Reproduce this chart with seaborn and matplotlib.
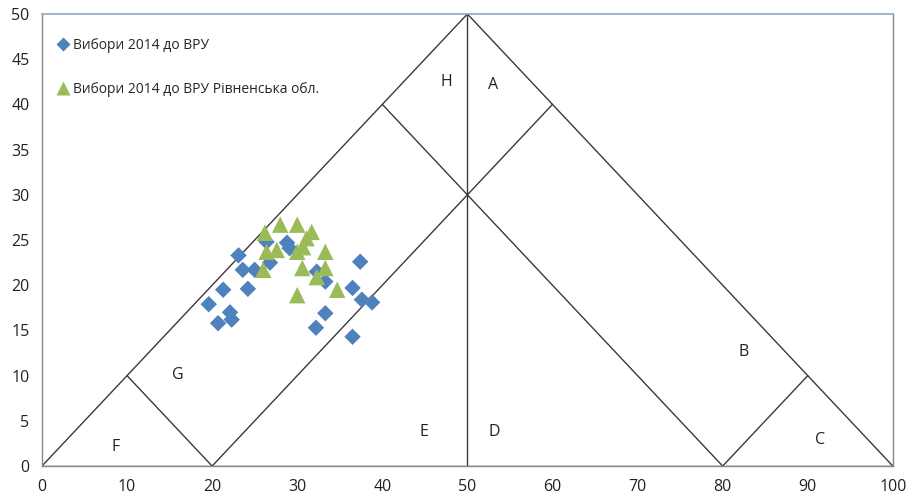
import pandas as pd
import matplotlib
matplotlib.use("Agg")
import matplotlib.pyplot as plt
import seaborn as sns

# series 1: blue diamonds
ukr_x = [23.1, 23.6, 25.0, 21.3, 24.2, 19.6, 22.1, 20.7, 22.3, 26.4, 28.8, 26.8, 29.1,
         32.3, 33.3, 37.4, 36.5, 37.6, 38.8, 33.3, 32.2, 36.5]
ukr_y = [23.3, 21.7, 21.7, 19.5, 19.6, 17.9, 17.0, 15.8, 16.2, 24.8, 24.7, 22.5, 24.1,
         21.5, 20.4, 22.6, 19.7, 18.4, 18.1, 16.9, 15.3, 14.3]

# series 2: green triangles
rivne_x = [26.2, 28.0, 30.0, 31.7, 31.1, 30.7, 27.6, 26.4, 30.0, 33.3, 26.0, 30.6, 33.3,
           32.3, 34.7, 30.0]
rivne_y = [25.8, 26.7, 26.7, 25.9, 25.2, 24.2, 23.9, 23.7, 23.7, 23.7, 21.7, 21.9, 21.9,
           20.9, 19.5, 18.9]

series_names = ["Вибори 2014 до ВРУ", "Вибори 2014 до ВРУ Рівненська обл."]

# zone boundaries of the diagram
segments = [
    ((0, 0), (50, 50)),
    ((50, 50), (100, 0)),
    ((0, 0), (100, 0)),
    ((50, 0), (50, 50)),
    ((20, 0), (60, 40)),
    ((80, 0), (40, 40)),
    ((10, 10), (20, 0)),
    ((80, 0), (90, 10)),
]

zone_labels = ["H", "A", "B", "C", "D", "E", "F", "G"]
zone_x = [47.5, 53.0, 82.5, 91.4, 53.2, 44.9, 8.7, 16.0]
zone_y = [42.5, 42.1, 12.6, 2.9, 3.8, 3.8, 2.1, 10.1]

df = pd.concat([
    pd.DataFrame({"x": ukr_x, "y": ukr_y, "series": series_names[0]}),
    pd.DataFrame({"x": rivne_x, "y": rivne_y, "series": series_names[1]}),
], ignore_index=True)

sns.set_style("white")
plt.rcParams["font.family"] = ["Open Sans", "DejaVu Sans"]

fig = plt.figure(figsize=(9.12, 4.99), dpi=100)
ax = fig.add_axes([0.046, 0.066, 0.933, 0.906])

for (x0, y0), (x1, y1) in segments:
    ax.plot([x0, x1], [y0, y1], color="#3a3a3a", lw=1.0, zorder=1)

palette = {series_names[0]: "#4F81BD", series_names[1]: "#9BBB59"}
markers = {series_names[0]: "D", series_names[1]: "^"}
sns.scatterplot(data=df[df.series == series_names[0]], x="x", y="y", hue="series",
                style="series", palette=palette, markers=markers, s=70,
                edgecolor="none", ax=ax, zorder=3)
sns.scatterplot(data=df[df.series == series_names[1]], x="x", y="y", hue="series",
                style="series", palette=palette, markers=markers, s=140,
                edgecolor="none", ax=ax, zorder=3)

for lab, zx, zy in zip(zone_labels, zone_x, zone_y):
    ax.text(zx, zy, lab, fontsize=11.5, ha="center", va="center", color="#222222")

ax.set_xlim(0, 100)
ax.set_ylim(0, 50)
ax.set_xticks(range(0, 101, 10))
ax.set_yticks(range(0, 51, 5))
ax.tick_params(labelsize=11.5, length=0, pad=9, colors="#222222")
ax.set_xlabel("")
ax.set_ylabel("")

for side in ["left", "right", "bottom"]:
    ax.spines[side].set_color("#888888")
    ax.spines[side].set_linewidth(1.0)
ax.spines["top"].set_color("#8fa8c4")
ax.spines["top"].set_linewidth(1.2)

h, l = ax.get_legend_handles_labels()
leg = ax.legend(h, l, loc="upper left", bbox_to_anchor=(0.0, 0.975), frameon=False,
                fontsize=10, handletextpad=0.1, handlelength=1.2, labelspacing=2.1,
                markerscale=0.85, borderaxespad=0.5)

fig.savefig("out.png", dpi=100)
